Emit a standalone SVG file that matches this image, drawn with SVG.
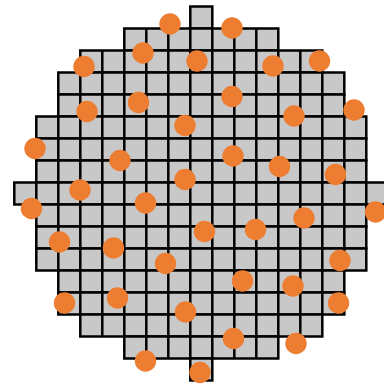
<svg xmlns="http://www.w3.org/2000/svg" width="384" height="385" viewBox="0 0 384 385">
<style>
.row{fill:#c8c8c8;stroke:#000;stroke-width:2.5}
.grid{fill:none;stroke:#000;stroke-width:2.5}
.dot{fill:#ED7D31}
</style>
<rect width="384" height="385" fill="#fff"/>
<g id="cells" transform="translate(0.3,0.5)">
<rect class="row" x="190" y="6" width="22" height="22"/>
<rect class="row" x="124" y="28" width="154" height="22"/>
<rect class="row" x="80" y="50" width="242" height="22"/>
<rect class="row" x="58" y="72" width="286" height="22"/>
<rect class="row" x="58" y="94" width="286" height="22"/>
<rect class="row" x="36" y="116" width="330" height="22"/>
<rect class="row" x="36" y="138" width="330" height="22"/>
<rect class="row" x="36" y="160" width="330" height="22"/>
<rect class="row" x="14" y="182" width="374" height="22"/>
<rect class="row" x="36" y="204" width="330" height="22"/>
<rect class="row" x="36" y="226" width="330" height="22"/>
<rect class="row" x="36" y="248" width="330" height="22"/>
<rect class="row" x="58" y="270" width="286" height="22"/>
<rect class="row" x="58" y="292" width="286" height="22"/>
<rect class="row" x="80" y="314" width="242" height="22"/>
<rect class="row" x="124" y="336" width="154" height="22"/>
<rect class="row" x="190" y="358" width="22" height="22"/>
<path class="grid" d="M36 182V204M58 116V270M80 72V314M102 50V336M124 50V336M146 28V358M168 28V358M190 28V358M212 28V358M234 28V358M256 28V358M278 50V336M300 50V336M322 72V314M344 116V270M366 182V204"/>
</g>
<g id="dots">
<circle class="dot" cx="170" cy="24" r="10.7"/>
<circle class="dot" cx="232" cy="28" r="10.7"/>
<circle class="dot" cx="143" cy="53" r="10.7"/>
<circle class="dot" cx="197" cy="61" r="10.7"/>
<circle class="dot" cx="84" cy="66.5" r="10.7"/>
<circle class="dot" cx="273" cy="66" r="10.7"/>
<circle class="dot" cx="319.5" cy="61" r="10.7"/>
<circle class="dot" cx="232" cy="96.5" r="10.7"/>
<circle class="dot" cx="138.5" cy="102.5" r="10.7"/>
<circle class="dot" cx="87" cy="111.5" r="10.7"/>
<circle class="dot" cx="294" cy="116" r="10.7"/>
<circle class="dot" cx="354" cy="110" r="10.7"/>
<circle class="dot" cx="185" cy="125.5" r="10.7"/>
<circle class="dot" cx="35" cy="148.5" r="10.7"/>
<circle class="dot" cx="120" cy="160.5" r="10.7"/>
<circle class="dot" cx="233" cy="156" r="10.7"/>
<circle class="dot" cx="279.5" cy="166.5" r="10.7"/>
<circle class="dot" cx="335.5" cy="174.5" r="10.7"/>
<circle class="dot" cx="80" cy="190" r="10.7"/>
<circle class="dot" cx="185" cy="179.5" r="10.7"/>
<circle class="dot" cx="31.5" cy="208.5" r="10.7"/>
<circle class="dot" cx="145.5" cy="203" r="10.7"/>
<circle class="dot" cx="375.5" cy="212" r="10.7"/>
<circle class="dot" cx="304" cy="218" r="10.7"/>
<circle class="dot" cx="204.5" cy="231.5" r="10.7"/>
<circle class="dot" cx="255.5" cy="229.5" r="10.7"/>
<circle class="dot" cx="59.5" cy="242" r="10.7"/>
<circle class="dot" cx="113.5" cy="248" r="10.7"/>
<circle class="dot" cx="165.5" cy="263.5" r="10.7"/>
<circle class="dot" cx="340" cy="260.5" r="10.7"/>
<circle class="dot" cx="242.5" cy="281" r="10.7"/>
<circle class="dot" cx="293" cy="286" r="10.7"/>
<circle class="dot" cx="64.5" cy="303" r="10.7"/>
<circle class="dot" cx="117.5" cy="298" r="10.7"/>
<circle class="dot" cx="185.5" cy="312" r="10.7"/>
<circle class="dot" cx="338.5" cy="303" r="10.7"/>
<circle class="dot" cx="233.5" cy="338.5" r="10.7"/>
<circle class="dot" cx="296" cy="343.5" r="10.7"/>
<circle class="dot" cx="145.5" cy="361" r="10.7"/>
<circle class="dot" cx="200" cy="372.5" r="10.7"/>
</g>
</svg>
